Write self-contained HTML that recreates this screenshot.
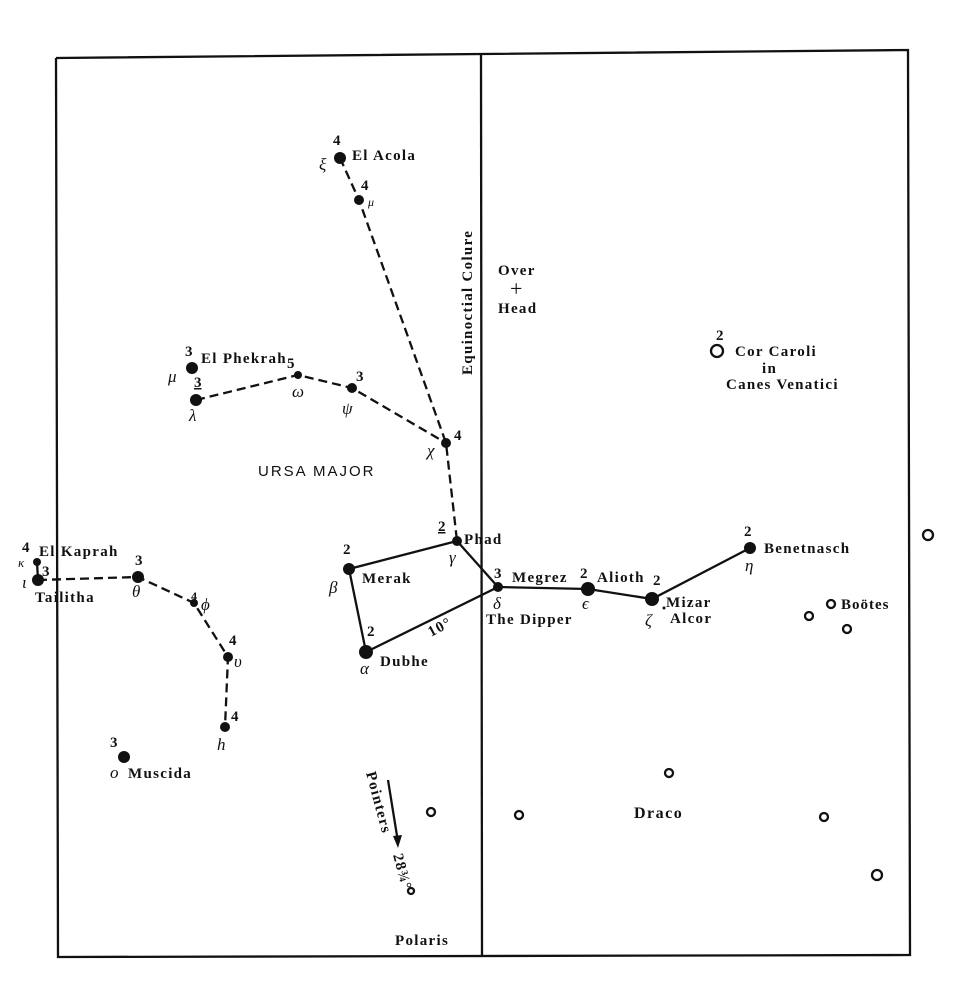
<!DOCTYPE html>
<html><head><meta charset="utf-8"><style>
html,body{margin:0;padding:0;background:#fff;}
svg{display:block;}
text{font-family:"Liberation Serif",serif;fill:#111;}
.b{font-weight:bold;font-size:15px;letter-spacing:1.3px;}
.n{font-weight:bold;font-size:15px;}
.g{font-style:italic;font-size:17px;}
</style></head><body>
<svg width="968" height="1000" viewBox="0 0 968 1000" xmlns="http://www.w3.org/2000/svg">
<rect width="968" height="1000" fill="#fff"/>
<g stroke="#111" fill="none" stroke-width="2.3">
<polyline points="56,58 908,50 910,955 58,957 56,58"/>
<line x1="481" y1="54" x2="482" y2="955"/>
</g>
<g stroke="#111" fill="none" stroke-width="2.3" stroke-dasharray="9,5">
<polyline points="340,158 359,200 446,443 457,541"/>
<polyline points="196,400 298,375 352,388 446,443"/>
<polyline points="38,580 138,577 194,603 228,657 225,727"/>
</g>
<g stroke="#111" fill="none" stroke-width="2.3">
<polyline points="457,541 349,569 366,652 498,587 457,541"/>
<polyline points="498,587 588,589 652,599 750,548"/>
<line x1="37" y1="562" x2="38" y2="580"/>
<line x1="388" y1="780" x2="398" y2="842"/>
</g>
<polygon points="398,848 393,836 402,835" fill="#111"/>
<g fill="#111">
<circle cx="340" cy="158" r="6"/><circle cx="359" cy="200" r="5"/>
<circle cx="192" cy="368" r="6"/><circle cx="196" cy="400" r="6"/>
<circle cx="298" cy="375" r="4"/><circle cx="352" cy="388" r="5"/>
<circle cx="446" cy="443" r="5"/><circle cx="457" cy="541" r="5"/>
<circle cx="349" cy="569" r="6"/><circle cx="366" cy="652" r="7"/>
<circle cx="498" cy="587" r="5"/><circle cx="588" cy="589" r="7"/>
<circle cx="652" cy="599" r="7"/><circle cx="750" cy="548" r="6"/>
<circle cx="37" cy="562" r="4"/><circle cx="38" cy="580" r="6"/>
<circle cx="138" cy="577" r="6"/><circle cx="194" cy="603" r="4"/>
<circle cx="228" cy="657" r="5"/><circle cx="225" cy="727" r="5"/>
<circle cx="124" cy="757" r="6"/><circle cx="664" cy="608" r="1.5"/>
</g>
<g fill="#fff" stroke="#111" stroke-width="2.3">
<circle cx="717" cy="351" r="6"/><circle cx="928" cy="535" r="5"/>
<circle cx="831" cy="604" r="4"/><circle cx="809" cy="616" r="4"/>
<circle cx="847" cy="629" r="4"/><circle cx="669" cy="773" r="4"/>
<circle cx="431" cy="812" r="4"/><circle cx="519" cy="815" r="4"/>
<circle cx="824" cy="817" r="4"/><circle cx="877" cy="875" r="5"/>
<circle cx="411" cy="891" r="3"/>
</g>
<text class="n" x="333" y="145">4</text><text class="b" x="352" y="160">El Acola</text><text class="g" x="319" y="170">ξ</text>
<text class="n" x="361" y="190">4</text><text class="g" x="368" y="206" style="font-size:12px">μ</text>
<text class="b" x="498" y="275">Over</text><text x="510" y="296" style="font-size:22px">+</text><text class="b" x="498" y="313">Head</text>
<text class="b" transform="translate(472,375) rotate(-90)">Equinoctial Colure</text>
<text class="n" x="716" y="340">2</text><text class="b" x="735" y="356">Cor Caroli</text><text class="b" x="762" y="373">in</text><text class="b" x="726" y="389">Canes Venatici</text>
<text class="n" x="185" y="356">3</text><text class="b" x="201" y="363">El Phekrah</text><text class="n" x="287" y="368">5</text>
<text class="g" x="168" y="382">μ</text><text class="n" x="194" y="387" text-decoration="underline">3</text><text class="g" x="189" y="421">λ</text>
<text class="g" x="292" y="397">ω</text><text class="n" x="356" y="381">3</text><text class="g" x="342" y="414">ψ</text>
<text class="n" x="454" y="440">4</text><text class="g" x="427" y="456">χ</text>
<text x="258" y="476" style="font-family:'Liberation Sans',sans-serif;font-size:15px;letter-spacing:2px">URSA MAJOR</text>
<text class="n" x="438" y="531" text-decoration="underline">2</text><text class="b" x="464" y="544">Phad</text><text class="g" x="449" y="563">γ</text>
<text class="n" x="343" y="554">2</text><text class="b" x="362" y="583">Merak</text><text class="g" x="329" y="593">β</text>
<text class="n" x="367" y="636">2</text><text class="b" x="380" y="666">Dubhe</text><text class="g" x="360" y="674">α</text>
<text class="b" transform="translate(431,637) rotate(-28)">10°</text>
<text class="n" x="494" y="578">3</text><text class="b" x="512" y="582">Megrez</text><text class="g" x="493" y="609">δ</text>
<text class="b" x="486" y="624">The Dipper</text>
<text class="n" x="580" y="578">2</text><text class="b" x="597" y="582">Alioth</text><text class="n" x="653" y="585">2</text><text class="g" x="582" y="609">ϵ</text>
<text class="b" x="666" y="607">Mizar</text><text class="b" x="670" y="623">Alcor</text><text class="g" x="645" y="626">ζ</text>
<text class="n" x="744" y="536">2</text><text class="b" x="764" y="553">Benetnasch</text><text class="g" x="745" y="571">η</text>
<text class="b" x="841" y="609" style="font-size:15px;letter-spacing:1px">Boötes</text>
<text class="n" x="22" y="552">4</text><text class="b" x="39" y="556">El Kaprah</text><text class="g" x="18" y="567" style="font-size:13px">κ</text>
<text class="n" x="42" y="576">3</text><text class="g" x="22" y="588">ι</text><text class="b" x="35" y="602">Tailitha</text>
<text class="n" x="135" y="565">3</text><text class="g" x="132" y="597">θ</text>
<text class="n" x="191" y="600" text-decoration="underline" style="font-size:12px">4</text><text class="g" x="201" y="610">ϕ</text>
<text class="n" x="229" y="645">4</text><text class="g" x="234" y="667">υ</text>
<text class="n" x="231" y="721">4</text><text class="g" x="217" y="750">h</text>
<text class="n" x="110" y="747">3</text><text class="g" x="110" y="778">o</text><text class="b" x="128" y="778">Muscida</text>
<text class="b" transform="translate(366,773) rotate(75)">Pointers</text>
<text class="b" transform="translate(393,855) rotate(75)">28¾°</text>
<text class="b" x="634" y="818" style="font-size:16px;letter-spacing:1.5px">Draco</text>
<text class="b" x="395" y="945">Polaris</text>
</svg>
</body></html>
